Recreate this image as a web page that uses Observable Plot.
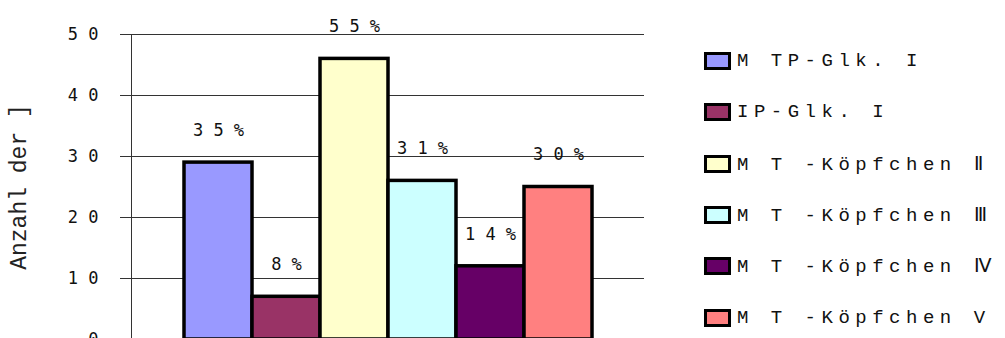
<!DOCTYPE html>
<html><head><meta charset="utf-8">
<script src="https://cdn.jsdelivr.net/npm/d3@7"></script>
<script src="https://cdn.jsdelivr.net/npm/@observablehq/plot@0.6"></script>
<style>
html,body{margin:0;padding:0;background:#fff;overflow:hidden;}
#wrap{position:relative;width:1005px;height:338px;overflow:hidden;}
#chart{position:absolute;left:0;top:0;}
#legend{position:absolute;left:704px;top:0;font-family:"Courier New","Liberation Mono",Cousine,monospace;font-size:19px;color:#111;}
.item{position:absolute;left:0;display:flex;align-items:center;white-space:pre;}
.sw{width:21px;height:12px;border:3.5px solid #000;margin-right:6px;box-sizing:content-box;flex:none;}
.lt{letter-spacing:5.5px;}
</style></head><body>
<div id="wrap"><div id="chart"></div><div id="legend"></div></div>
<script>
const categories = ["M TP-Glk. I", "IP-Glk. I", "M T -Köpfchen Ⅱ", "M T -Köpfchen Ⅲ", "M T -Köpfchen Ⅳ", "M T -Köpfchen V"];
const values = [29, 7, 46, 26, 12, 25];
const percentLabels = ["3 5 %", "8 %", "5 5 %", "3 1 %", "1 4 %", "3 0 %"];
const colors = ["#9999FF", "#993366", "#FFFFCC", "#CCFFFF", "#660066", "#FF8080"];
const yTicks = [0, 10, 20, 30, 40, 50];
const yTickLabels = ["0", "1 0", "2 0", "3 0", "4 0", "5 0"];
const yTitle = "Anzahl der ]";

const data = categories.map((c, i) => ({cat: c, value: values[i], label: percentLabels[i]}));

const chart = Plot.plot({
  width: 690,
  height: 350,
  marginLeft: 131,
  marginRight: 46,
  marginTop: 34,
  marginBottom: 11,
  style: {fontFamily: "'DejaVu Sans Mono', monospace", fontSize: "17px", color: "#111", background: "#fff"},
  x: {domain: categories, paddingInner: 0, paddingOuter: 0.73, axis: null},
  y: {domain: [0, 50], axis: null},
  color: {domain: categories, range: colors},
  marks: [
    Plot.ruleY(yTicks, {stroke: "#333", strokeWidth: 1}),
    Plot.axisY({ticks: yTicks, tickFormat: d => yTickLabels[yTicks.indexOf(d)], tickSize: 11, tickPadding: 22, label: null, stroke: "#333"}),
    Plot.frame({anchor: "left", stroke: "#333"}),
    Plot.barY(data, {x: "cat", y: "value", fill: "cat", stroke: "#000", strokeWidth: 3.5}),
    Plot.text(data, {x: "cat", y: "value", text: "label", dy: -32, lineAnchor: "middle", fill: "#111"}),
    Plot.text([yTitle], {frameAnchor: "left", rotate: -90, dx: -113, textAnchor: "middle", lineAnchor: "middle", fontFamily: "'Courier New', 'Liberation Mono', Cousine, monospace", fontSize: 23, fill: "#222"})
  ]
});
document.getElementById("chart").appendChild(chart);

const legend = document.getElementById("legend");
categories.forEach((c, i) => {
  const item = document.createElement("div");
  item.className = "item";
  item.style.top = (61 + i * 51.3 - 10) + "px";
  item.style.height = "20px";
  const sw = document.createElement("span");
  sw.className = "sw";
  sw.style.background = colors[i];
  const t = document.createElement("span");
  t.className = "lt";
  t.textContent = c;
  item.appendChild(sw);
  item.appendChild(t);
  legend.appendChild(item);
});
</script>
</body></html>
